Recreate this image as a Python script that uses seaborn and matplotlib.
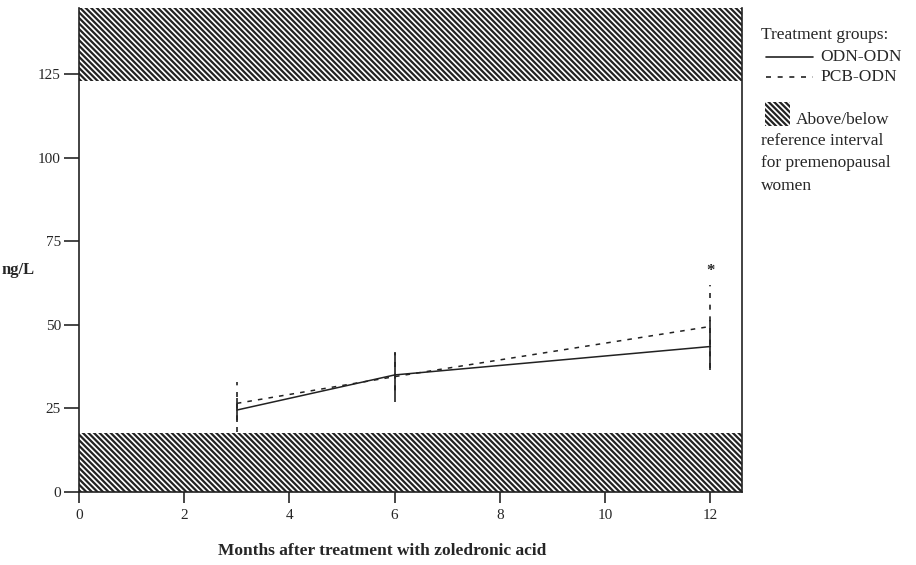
import pandas as pd
import seaborn as sns
import matplotlib.pyplot as plt
from matplotlib.patches import Rectangle
from matplotlib.lines import Line2D

months = [3, 6, 12]
odn_mean = [24.5, 35.0, 43.5]
odn_low = [21.0, 28.5, 36.5]
odn_high = [28.0, 41.5, 51.5]
pcb_mean = [26.5, 34.5, 49.5]
pcb_low = [18.0, 27.0, 37.0]
pcb_high = [33.0, 42.0, 62.0]
groups = ["ODN-ODN", "PCB-ODN"]
ref_low = 17.5
ref_high = 123.0
y_ticks = [0, 25, 50, 75, 100, 125]
x_ticks = [0, 2, 4, 6, 8, 10, 12]

sns.set_style("ticks")
plt.rcParams["font.family"] = ["Liberation Serif", "DejaVu Serif"]
plt.rcParams["hatch.linewidth"] = 1.6
plt.rcParams["hatch.color"] = "#222222"

df = pd.DataFrame({
    "month": months * 2,
    "value": odn_mean + pcb_mean,
    "group": [groups[0]] * 3 + [groups[1]] * 3,
})

fig = plt.figure(figsize=(9.16, 5.65), dpi=100)
ax = fig.add_axes([0.0862, 0.1292, 0.7238, 0.8566])

ymax = 144.7
xmax = 12.6
hatch = "\\\\\\\\\\\\"

# reference bands
ax.add_patch(Rectangle((0, ref_high), xmax, ymax - ref_high, facecolor="white",
                       edgecolor="#222222", hatch=hatch, linewidth=0, zorder=1))
ax.add_patch(Rectangle((0, 0), xmax, ref_low, facecolor="white",
                       edgecolor="#222222", hatch=hatch, linewidth=0, zorder=1))

sns.lineplot(data=df, x="month", y="value", style="group",
             dashes={"ODN-ODN": "", "PCB-ODN": (3, 4)},
             color="#222222", linewidth=1.1, legend=False, ax=ax, zorder=3)

ax.vlines(months, pcb_low, pcb_high, colors="#222222", linestyles=(0, (3, 4)), linewidth=1.2, zorder=3)
ax.vlines(months, odn_low, odn_high, colors="#222222", linewidth=1.2, zorder=4)

ax.text(12, 66, "*", ha="center", va="center", fontsize=12, fontweight="bold")

ax.set_xlim(0, xmax)
ax.set_ylim(0, ymax)
ax.set_xticks(x_ticks)
ax.set_yticks(y_ticks)
ax.tick_params(axis="y", length=11, width=1.2, labelsize=11, pad=2)
ax.tick_params(axis="x", length=8, width=1.2, labelsize=11, pad=4)
for side in ["left", "bottom", "right"]:
    ax.spines[side].set_linewidth(1.2)
    ax.spines[side].set_color("#222222")
ax.spines["top"].set_visible(False)
ax.set_xlabel("")
ax.set_ylabel("")

fig.text(0.417, 0.024, "Months after treatment with zoledronic acid",
         ha="center", va="center", fontsize=12.5, fontweight="bold")
fig.text(0.002, 0.522, "ng/L", ha="left", va="center", fontsize=12, fontweight="bold")

# legend text on the right
fs = 12.5
fig.text(0.831, 0.938, "Treatment groups:", fontsize=fs, va="center")
fig.lines.append(Line2D([0.836, 0.888], [0.899, 0.899], transform=fig.transFigure,
                        color="#222222", linewidth=1.2))
fig.lines.append(Line2D([0.836, 0.888], [0.864, 0.864], transform=fig.transFigure,
                        color="#222222", linewidth=1.2, linestyle=(0, (3, 4))))
fig.text(0.896, 0.899, "ODN-ODN", fontsize=fs, va="center")
fig.text(0.896, 0.864, "PCB-ODN", fontsize=fs, va="center")
fig.patches.append(Rectangle((0.835, 0.777), 0.027, 0.043, transform=fig.transFigure,
                             facecolor="white", edgecolor="#222222", hatch=hatch,
                             linewidth=0))
fig.text(0.869, 0.788, "Above/below", fontsize=fs, va="center")
fig.text(0.831, 0.765, "reference interval\nfor premenopausal\nwomen", fontsize=fs,
         va="top", linespacing=1.55)

fig.savefig("out.png", dpi=100)
